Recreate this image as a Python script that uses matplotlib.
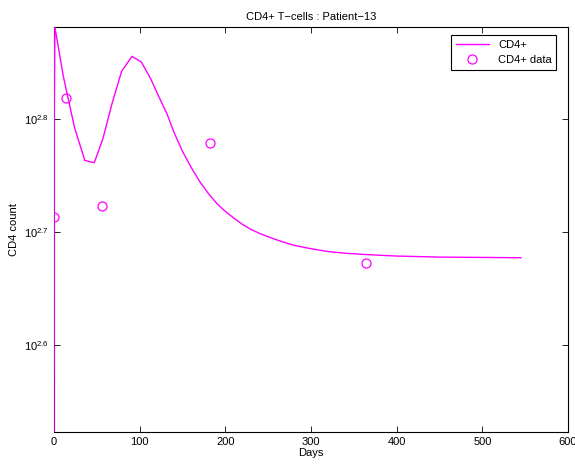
import numpy as np
import matplotlib
matplotlib.use("Agg")
import matplotlib.pyplot as plt
from matplotlib.ticker import FixedLocator, NullLocator

plt.rcParams['font.family'] = ['Liberation Sans', 'DejaVu Sans']
plt.rcParams['mathtext.fontset'] = 'custom'
plt.rcParams['mathtext.rm'] = 'Liberation Sans'
plt.rcParams['mathtext.it'] = 'Liberation Sans'
plt.rcParams['font.size'] = 8

# model curve (days, log10 of CD4 count)
t_model = [0, 0.3, 1, 11, 24, 36, 47, 57, 68, 79, 91, 102, 113, 122, 132, 140,
           150, 160, 170, 180, 190, 200, 210, 220, 230, 240, 250, 265, 280, 300,
           320, 340, 360, 400, 450, 500, 545]
log_model = [2.40, 2.80, 2.881, 2.837, 2.792, 2.763, 2.761, 2.782, 2.814, 2.842,
             2.855, 2.850, 2.835, 2.820, 2.804, 2.788,
             2.771, 2.757, 2.7445, 2.734, 2.725, 2.718, 2.712, 2.7065, 2.702,
             2.6985, 2.6955, 2.6915, 2.688, 2.685, 2.6825, 2.681, 2.680, 2.6785,
             2.6776, 2.6773, 2.677]

# measured data
t_data = [0, 14, 56, 182, 364]
log_data = [2.713, 2.818, 2.723, 2.778, 2.672]

cd4_model = 10 ** np.array(log_model)
cd4_data = 10 ** np.array(log_data)

fig = plt.figure(figsize=(5.75, 4.65), dpi=100)
ax = fig.add_axes([0.0939, 0.071, 0.894, 0.871])

ax.plot(t_model, cd4_model, color='#ff00ff', lw=1.0, label='CD4+', zorder=3)
ax.plot(t_data, cd4_data, 'o', mfc='none', mec='#ff00ff', ms=6.5, mew=0.9,
        label='CD4+ data', zorder=3)

ax.set_yscale('log')
ax.set_xlim(0, 600)
ax.set_ylim(10 ** 2.523, 10 ** 2.881)
ax.xaxis.set_major_locator(FixedLocator([0, 100, 200, 300, 400, 500, 600]))
ax.yaxis.set_major_locator(FixedLocator([10 ** 2.6, 10 ** 2.7, 10 ** 2.8]))
ax.yaxis.set_minor_locator(NullLocator())
ax.set_yticklabels([r'$10^{2.6}$', r'$10^{2.7}$', r'$10^{2.8}$'])
ax.tick_params(direction='in', top=True, right=True, length=4, width=0.6,
               labelsize=8)
for s in ax.spines.values():
    s.set_linewidth(0.8)

ax.set_xlabel('Days', labelpad=1)
ax.set_ylabel('CD4 count', labelpad=4)
ax.set_title('CD4+ T\u2212cells : Patient\u221213', fontsize=8, pad=5)

leg = ax.legend(loc='upper right', fancybox=False, edgecolor='black',
                framealpha=1, fontsize=8, borderaxespad=0, handlelength=3.0,
                bbox_to_anchor=(0.977, 0.980))
leg.get_frame().set_linewidth(0.8)

fig.savefig('out.png', dpi=100)
